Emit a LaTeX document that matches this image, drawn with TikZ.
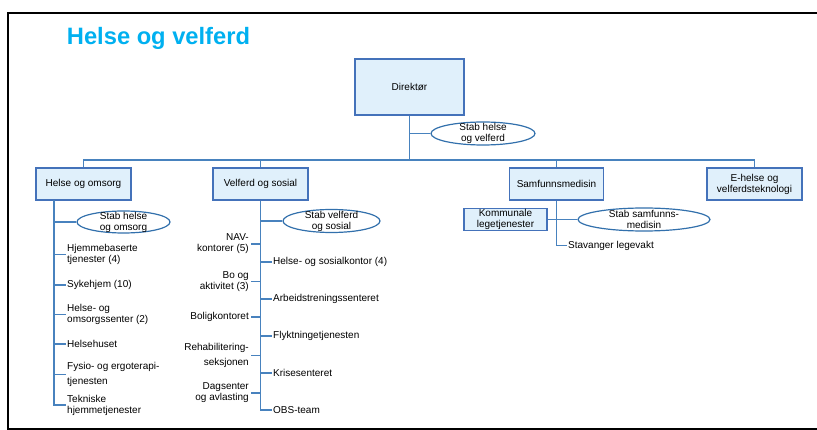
\documentclass[tikz,border=0pt]{standalone}
\usepackage{fontspec}
\setmainfont{Liberation Sans}
\usetikzlibrary{shapes.geometric}
\definecolor{titleblue}{RGB}{0,176,240}
\definecolor{boxfill}{RGB}{224,240,251}
\definecolor{boxdraw}{RGB}{68,114,186}
\definecolor{linecol}{RGB}{72,130,190}
\definecolor{ovaldraw}{RGB}{50,112,172}
\begin{document}
\begin{tikzpicture}[x=1pt,y=-1pt,
  lbl/.style={font=\fontsize{10}{11}\selectfont},
  unit/.style={lbl, draw=boxdraw, fill=boxfill, line width=1.2pt, inner sep=0pt, align=center},
  stab/.style={ellipse, draw=ovaldraw, fill=white, line width=1.2pt, inner sep=0pt},
  stabtext/.style={lbl, align=center, inner sep=0pt},
  item/.style={lbl, inner sep=1.5pt},
  conn/.style={draw=linecol, line width=1.3pt}]
\useasboundingbox (0,0) rectangle (817,430);

% page frame
\draw[line width=2pt] (820,13) -- (8,13) -- (8,429) -- (820,429);

% heading
\node[font=\fontsize{23.7}{28}\selectfont\bfseries, text=titleblue] (title) at (158.5,38) {Helse og velferd};

% top level
\node[unit, minimum width=109pt, minimum height=56pt] (dir) at (409.5,87) {Direktør};
\node[stab, minimum width=104pt, minimum height=23pt,
      label={[stabtext]center:Stab helse\\og velferd}] (s1) at (483,133.5) {};
\coordinate (bus) at (409.5,160);

\node[unit, minimum width=95pt, minimum height=32pt] (ho) at (83.5,184) {Helse og omsorg};
\node[unit, minimum width=95pt, minimum height=32pt] (vs) at (260.5,184) {Velferd og sosial};
\node[unit, minimum width=94pt, minimum height=32pt] (sm) at (556.5,184) {Samfunnsmedisin};
\node[unit, minimum width=95pt, minimum height=32pt] (eh) at (754.5,184) {E-helse og\\velferdsteknologi};

\draw[conn] (dir.south) -- (bus);
\draw[conn] (dir.south |- s1.west) -- (s1.west);
\draw[conn] (ho.north) |- (eh.north |- bus) -- (eh.north);
\draw[conn] (vs.north) -- (vs.north |- bus);
\draw[conn] (sm.north) -- (sm.north |- bus);

% Helse og omsorg
\coordinate (hoTop) at (54,200);
\node[stab, minimum width=93pt, minimum height=22pt,
      label={[stabtext]center:Stab helse\\og omsorg}] (s2) at (123.5,222) {};
\node[item, anchor=west, align=left] (h1) at (65.5,254.5) {Hjemmebaserte\\tjenester (4)};
\node[item, anchor=west, align=left] (h2) at (65.5,285) {Sykehjem (10)};
\node[item, anchor=west, align=left] (h3) at (65.5,314.5) {Helse- og\\omsorgssenter (2)};
\node[item, anchor=west, align=left] (h4) at (65.5,344) {Helsehuset};
\node[item, anchor=west, align=left] (h5) at (65.5,374.5) {Fysio- og ergoterapi-\\[4pt]tjenesten};
\node[item, anchor=west, align=left] (h6) at (65.5,405) {Tekniske\\hjemmetjenester};
\draw[conn] (hoTop) |- (h6.west);
\draw[conn] (hoTop |- s2.west) -- (s2.west);
\foreach \n in {h1,h2,h3,h4,h5} \draw[conn] (hoTop |- \n.west) -- (\n.west);

% Velferd og sosial
\node[stab, minimum width=97pt, minimum height=23pt,
      label={[stabtext]center:Stab velferd\\og sosial}] (s3) at (331.5,221) {};
\node[item, anchor=east, align=right] (v1) at (250.5,244) {NAV-\\kontorer (5)};
\node[item, anchor=east, align=right] (v2) at (250.5,281.5) {Bo og\\aktivitet (3)};
\node[item, anchor=east, align=right] (v3) at (250.5,317) {Boligkontoret};
\node[item, anchor=east, align=right] (v4) at (250.5,355.5) {Rehabilitering-\\[4pt]seksjonen};
\node[item, anchor=east, align=right] (v5) at (250.5,393) {Dagsenter\\og avlasting};
\node[item, anchor=west] (r1) at (271.5,262) {Helse- og sosialkontor (4)};
\node[item, anchor=west] (r2) at (271.5,299) {Arbeidstreningssenteret};
\node[item, anchor=west] (r3) at (271.5,336) {Flyktningetjenesten};
\node[item, anchor=west] (r4) at (271.5,373) {Krisesenteret};
\node[item, anchor=west] (r5) at (271.5,410) {OBS-team};
\draw[conn] (vs.south) |- (r5.west);
\draw[conn] (vs.south |- s3.west) -- (s3.west);
\foreach \n in {v1,v2,v3,v4,v5} \draw[conn] (vs.south |- \n.east) -- (\n.east);
\foreach \n in {r1,r2,r3,r4} \draw[conn] (vs.south |- \n.west) -- (\n.west);

% Samfunnsmedisin
\node[unit, minimum width=83pt, minimum height=22pt] (km) at (505.5,219.5) {Kommunale\\legetjenester};
\node[stab, minimum width=132pt, minimum height=23pt,
      label={[stabtext]center:Stab samfunns-\\medisin}] (s4) at (644,219.5) {};
\node[item, anchor=west] (sl) at (566.5,245.5) {Stavanger legevakt};
\draw[conn] (km.east) -- (s4.west);
\draw[conn] (sm.south) |- (sl.west);
\end{tikzpicture}
\end{document}
